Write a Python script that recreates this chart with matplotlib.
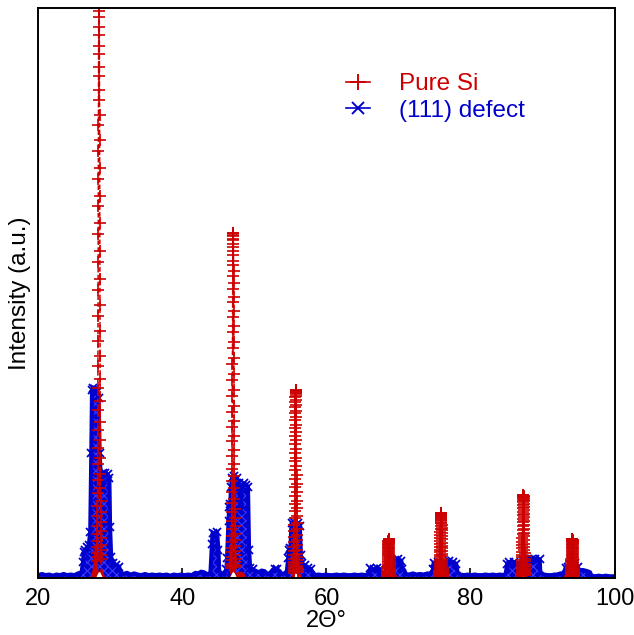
import matplotlib
matplotlib.use('Agg')
import matplotlib.pyplot as plt
import numpy as np

plt.rcParams['font.family'] = ['Liberation Sans', 'DejaVu Sans']
plt.rcParams['hatch.linewidth'] = 0.8

RED = '#cc0000'
BLUE = '#0000cc'

# ---------------- data ----------------
# Pure Si: sharp Bragg peaks (centre in 2theta, peak height in a.u.)
si_peak_center = [28.42, 47.05, 55.73, 68.65, 75.92, 87.35, 94.15]
si_peak_height = [105.0, 60.5, 33.0, 6.9, 11.4, 14.6, 6.9]
# sampled peak shape (fraction of peak height), point by point across a peak
si_peak_profile = [0.028, 0.035, 0.042, 0.051, 0.062, 0.074, 0.087, 0.103, 0.121, 0.142,
                   0.164, 0.190, 0.218, 0.248, 0.281, 0.317, 0.355, 0.396, 0.438, 0.482,
                   0.528, 0.574, 0.621, 0.667, 0.713, 0.757, 0.799, 0.839, 0.876, 0.908,
                   0.937, 0.960, 0.979, 0.991, 0.999,
                   1.000, 0.995, 0.984, 0.968, 0.947, 0.920, 0.889, 0.854, 0.816, 0.774,
                   0.731, 0.685, 0.639, 0.593, 0.546, 0.500, 0.456, 0.412, 0.371, 0.332,
                   0.295, 0.261, 0.230, 0.201, 0.174, 0.150, 0.129, 0.110, 0.094, 0.079,
                   0.066, 0.055, 0.046, 0.038, 0.031]
si_sample_step = 0.008  # degrees between samples

# Pure Si: low base features around the peaks
si_base_angle = [27.3, 27.6, 27.8, 27.92, 28.05, 28.25, 28.4, 28.6, 28.75, 28.95, 29.2,
                 46.7, 46.9, 47.0, 47.1, 47.25, 47.5, 47.9, 48.3, 48.6, 48.8,
                 55.3, 55.5, 55.6, 55.68, 55.8, 56.0, 56.3, 56.6,
                 75.9, 76.1, 76.4, 76.8, 77.1]
si_base_intensity = [0.0, 1.2, 2.8, 5.8, 2.5, 1.2, 0.0, 0.8, 1.6, 0.8, 0.0,
                     0.0, 1.0, 2.2, 1.2, 0.4, 0.8, 1.0, 0.9, 0.6, 0.0,
                     0.0, 1.5, 3.7, 1.5, 0.3, 0.6, 0.6, 0.0,
                     0.0, 0.5, 0.8, 0.4, 0.0]

# (111) defect: broadened pattern (upper envelope)
defect_angle = [
    20.0, 20.5, 21.0, 21.5, 22.0, 22.5, 23.0, 23.5, 24.0, 24.5, 25.0, 25.5,
    26.0, 26.2, 26.3, 26.5, 26.8, 27.0, 27.2, 27.35, 27.45, 27.6, 27.9, 28.2,
    28.35, 28.5, 28.75, 29.0, 29.3, 29.6, 29.85, 29.95, 30.1, 30.4, 30.8, 31.2,
    31.4, 31.8, 32.3, 32.8, 33.3, 33.8, 34.3, 34.8, 35.3, 35.8, 36.3, 36.8,
    37.3, 37.8, 38.3, 38.8, 39.3, 39.8, 40.3, 40.8, 41.3, 41.8, 42.2, 42.6,
    43.0, 43.5, 43.9, 44.1, 44.2, 44.5, 44.8, 45.0, 45.1, 45.4, 45.8, 46.1,
    46.2, 46.4, 46.5, 46.65, 46.75, 46.9, 47.2, 47.6, 47.9, 48.05, 48.25, 48.5,
    48.8, 49.1, 49.25, 49.4, 49.8, 50.3, 50.6, 51.0, 51.4, 51.8, 52.2, 52.5,
    52.8, 53.2, 53.5, 53.8, 54.2, 54.5, 54.7, 54.8, 55.0, 55.15, 55.5, 56.0,
    56.3, 56.45, 56.6, 57.0, 57.4, 57.8, 58.1, 58.4, 58.9, 59.4, 59.9, 60.4,
    60.9, 61.4, 61.9, 62.4, 62.9, 63.4, 63.9, 64.4, 64.9, 65.4, 65.9, 66.1,
    66.6, 67.0, 67.4, 67.6, 68.0, 68.6, 69.3, 69.45, 70.0, 70.4, 70.5, 70.8,
    71.0, 71.5, 72.0, 72.5, 73.0, 73.5, 74.0, 74.5, 74.8, 74.9, 75.5, 75.9,
    76.3, 76.5, 77.0, 77.6, 78.0, 78.2, 78.6, 79.1, 79.6, 80.1, 80.6, 81.1,
    81.6, 82.1, 82.6, 83.1, 83.6, 84.1, 84.6, 84.9, 85.1, 85.3, 86.0, 86.4,
    87.0, 87.35, 87.8, 88.3, 88.5, 89.0, 89.6, 89.7, 90.2, 90.7, 91.2, 91.7,
    92.0, 92.5, 93.0, 93.2, 93.6, 93.85, 94.2, 94.5, 94.9, 95.1, 95.6, 96.2,
    96.6, 96.8, 97.3, 97.8, 98.3, 98.8, 99.3, 100.0]
defect_intensity = [
    0.5, 0.7, 0.5, 0.6, 0.4, 0.6, 0.5, 0.7, 0.5, 0.6, 0.5, 0.8,
    1.0, 2.8, 4.6, 5.0, 5.4, 5.8, 8.0, 22.0, 33.0, 33.4, 33.2, 32.6,
    31.5, 22.0, 15.5, 18.4, 18.5, 18.2, 17.6, 9.0, 3.6, 2.6, 2.3, 2.0,
    1.0, 0.7, 0.9, 0.6, 0.8, 0.6, 0.5, 0.7, 0.5, 0.6, 0.5, 0.6,
    0.5, 0.6, 0.4, 0.6, 0.5, 0.6, 0.5, 0.6, 0.5, 0.9, 0.8, 1.1,
    1.0, 0.6, 1.0, 6.0, 7.9, 7.8, 8.0, 5.0, 1.3, 0.7, 0.6, 1.5,
    3.5, 10.0, 12.5, 13.0, 16.0, 17.6, 17.9, 17.5, 16.6, 12.0, 16.2, 16.6,
    16.4, 16.0, 5.0, 1.8, 1.5, 1.2, 1.0, 1.3, 1.2, 0.7, 0.9, 1.4,
    1.6, 1.5, 1.2, 0.7, 0.8, 1.2, 3.5, 4.9, 5.3, 9.6, 9.8, 9.6,
    9.2, 4.0, 2.6, 2.2, 1.8, 1.6, 1.0, 0.5, 0.6, 0.5, 0.6, 0.5,
    0.5, 0.6, 0.5, 0.6, 0.5, 0.5, 0.6, 0.5, 0.6, 0.5, 0.8, 1.7,
    1.5, 1.7, 1.5, 0.8, 0.7, 0.6, 0.8, 3.2, 3.3, 3.0, 1.6, 1.4,
    0.7, 0.6, 0.8, 0.6, 0.7, 0.6, 0.8, 0.7, 1.5, 2.7, 2.8, 2.5,
    2.3, 2.9, 2.9, 2.8, 2.5, 1.0, 0.6, 0.5, 0.6, 0.5, 0.6, 0.5,
    0.5, 0.6, 0.5, 0.6, 0.5, 0.6, 0.5, 0.8, 2.5, 2.8, 2.8, 2.4,
    2.3, 3.2, 3.4, 3.1, 3.4, 3.3, 3.3, 1.0, 0.6, 0.5, 0.5, 0.6,
    0.6, 0.8, 0.8, 1.8, 2.0, 2.5, 2.3, 2.7, 2.0, 1.3, 1.4, 1.2,
    1.0, 0.4, 0.3, 0.4, 0.3, 0.4, 0.3, 0.3]

x_ticks = [20, 40, 60, 80, 100]
labels = ['Pure Si', '(111) defect']

# ---------------- figure ----------------
fig = plt.figure(figsize=(6.34, 6.35), dpi=100)
ax = fig.add_axes([38.4 / 634, 57 / 635, (614.5 - 38.4) / 634, 570 / 635])

dx = np.asarray(defect_angle)
dy = np.asarray(defect_intensity)
n = min(len(dx), len(dy))
dx, dy = dx[:n], dy[:n]

ax.fill_between(dx, 0, dy, facecolor=BLUE, edgecolor='#3b3bff', hatch='xxxx',
                linewidth=0, zorder=2)
ax.plot(dx, dy, color=BLUE, lw=3.0, zorder=3)
ax.plot(dx, dy, ls='none', color=BLUE, marker='x', ms=6, mew=1.3,
        markevery=list(dy > 1.4), zorder=3)
blue_handle, = ax.plot([], [], color=BLUE, lw=1.2, marker='x', ms=9, mew=1.4,
                       label=labels[1])

ax.fill_between(si_base_angle, 0, si_base_intensity, color=RED, lw=0, zorder=4)
ax.plot(si_base_angle, si_base_intensity, color=RED, lw=1.2, zorder=4)

# white notch under each sharp peak
ax.plot(si_peak_center, [0] * len(si_peak_center), ls='none', marker='^',
        ms=9, mfc='white', mec='white', zorder=5, clip_on=False)

prof = np.asarray(si_peak_profile)
offs = (np.arange(len(prof)) - 35) * si_sample_step
for c, h in zip(si_peak_center, si_peak_height):
    ax.plot(c + offs, h * prof, color=RED, lw=1.1, ls=(0, (3, 1.5)),
            marker='+', ms=9, mew=1.2, zorder=6)
red_handle, = ax.plot([], [], color=RED, lw=1.2, marker='+', ms=12, mew=1.4,
                      label=labels[0])

ax.set_xlim(20, 100)
ax.set_ylim(0, 100)
ax.set_xticks(x_ticks)
ax.set_yticks([])
ax.tick_params(axis='x', direction='in', length=7, width=1.2, labelsize=17, pad=7)
for s in ax.spines.values():
    s.set_linewidth(1.4)
    s.set_zorder(10)

ax.set_xlabel('2\u0398\u00b0', fontsize=17, labelpad=0)
ax.set_ylabel('Intensity (a.u.)', fontsize=17.5, labelpad=5)

leg = ax.legend(handles=[red_handle, blue_handle], loc='upper left',
                bbox_to_anchor=(346 / 634, 1 - 73 / 635), bbox_transform=fig.transFigure,
                frameon=False, fontsize=17.5, handlelength=1.0, handletextpad=1.2,
                labelspacing=0.2, borderpad=0, borderaxespad=0)
for t, col in zip(leg.get_texts(), [RED, BLUE]):
    t.set_color(col)

fig.savefig('out.png', dpi=100)
